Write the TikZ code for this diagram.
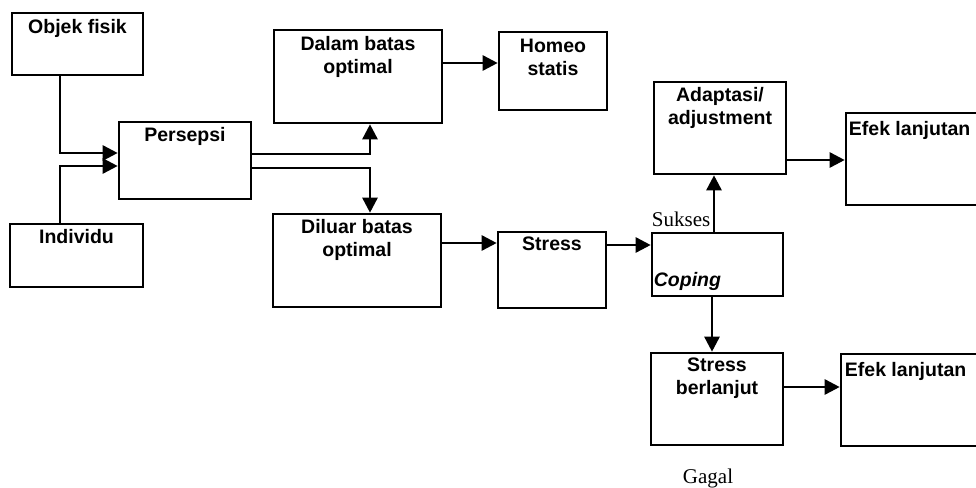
\documentclass[tikz,border=0pt]{standalone}
\usepackage{fontspec}
\setmainfont{Liberation Sans}
\newfontfamily\serifface{Liberation Serif}
\usetikzlibrary{arrows.meta}
\begin{document}
\begin{tikzpicture}[x=1pt,y=-1pt,
  box/.style={draw, line width=2.6pt, rectangle, inner sep=0pt},
  lbl/.style={inner sep=0pt, font=\fontsize{19.5pt}{23pt}\selectfont\bfseries, align=center, anchor=north},
  lbll/.style={inner sep=0pt, font=\fontsize{19.5pt}{23pt}\selectfont\bfseries, anchor=north west},
  ser/.style={inner sep=0pt, font=\fontsize{21pt}{24pt}\selectfont\serifface, anchor=base west},
  arr/.style={line width=2.6pt, -{Triangle[length=15pt,width=15pt]}}]
\useasboundingbox (0,0) rectangle (976,487);
\clip (0,0) rectangle (976,487);
% boxes
\node[box, minimum width=131pt, minimum height=62pt] (objek) at (77.5,44) {};
\node[box, minimum width=133pt, minimum height=63pt] (indiv) at (76.5,255.5) {};
\node[box, minimum width=132pt, minimum height=77pt] (pers) at (185,160.5) {};
\node[box, minimum width=168pt, minimum height=93pt] (dalam) at (358,76.5) {};
\node[box, minimum width=108pt, minimum height=78pt] (homeo) at (553,71) {};
\node[box, minimum width=168pt, minimum height=93pt] (diluar) at (357,260.5) {};
\node[box, minimum width=108pt, minimum height=76pt] (stress) at (552,270) {};
\node[box, minimum width=131pt, minimum height=63pt] (coping) at (717.5,264.5) {};
\node[box, minimum width=132pt, minimum height=92pt] (adapt) at (720,128) {};
\node[box, minimum width=144pt, minimum height=92pt] (efek1) at (918,159) {};
\node[box, minimum width=132pt, minimum height=92pt] (berl) at (717,399) {};
\node[box, minimum width=144pt, minimum height=92pt] (efek2) at (913,400) {};
% texts
\node[lbl] (tobjek) at ([yshift=-7pt]objek.north) {Objek fisik};
\node[lbl] (tindiv) at ([yshift=-6pt]indiv.north) {Individu};
\node[lbl] (tpers) at ([yshift=-6pt]pers.north) {Persepsi};
\node[lbl] (tdalam) at ([yshift=-7pt]dalam.north) {Dalam batas\\optimal};
\node[lbl] (thomeo) at ([yshift=-8pt]homeo.north) {Homeo\\statis};
\node[lbl] (tdiluar) at ([yshift=-6pt]diluar.north) {Diluar batas\\optimal};
\node[lbl] (tstress) at ([yshift=-6pt]stress.north) {Stress};
\node[lbl] (tadapt) at ([yshift=-6pt]adapt.north) {Adaptasi/\\adjustment};
\node[lbl] (tberl) at ([yshift=-6pt]berl.north) {Stress\\berlanjut};
\node[lbll] (tefek1) at ([xshift=4pt,yshift=-9pt]efek1.north west) {Efek lanjutan};
\node[lbll] (tefek2) at ([xshift=5pt,yshift=-9pt]efek2.north west) {Efek lanjutan};
\node[inner sep=0pt, anchor=base west, font=\fontsize{19.5pt}{23pt}\selectfont\bfseries\itshape] (tcoping) at ([xshift=3pt,yshift=11pt]coping.south west) {Coping};
\node[ser] (sukses) at ([xshift=1pt,yshift=5pt]coping.north west) {Sukses};
\node[ser, anchor=base] (gagal) at ([xshift=-9pt,yshift=-37pt]berl.south) {Gagal};
% connectors
\draw[arr] ([xshift=-17.5pt]objek.south) |- ([yshift=7.5pt]pers.west);
\draw[arr] ([xshift=-16.5pt]indiv.north) |- ([yshift=-5.5pt]pers.west);
\draw[arr] ([yshift=6.5pt]pers.east) -| ([xshift=12pt]dalam.south);
\draw[arr] ([yshift=-7.5pt]pers.east) -| ([xshift=13pt]diluar.north);
\draw[arr] ([yshift=13.5pt]dalam.east) -- ([yshift=13.5pt]dalam.east -| homeo.west);
\draw[arr] ([yshift=17.5pt]diluar.east) -- ([yshift=17.5pt]diluar.east -| stress.west);
\draw[arr] ([yshift=25pt]stress.east) -- ([yshift=25pt]stress.east -| coping.west);
\draw[arr] ([xshift=-3.5pt]coping.north) -- ([xshift=-3.5pt]coping.north |- adapt.south);
\draw[arr] ([xshift=-5.5pt]coping.south) -- ([xshift=-5.5pt]coping.south |- berl.north);
\draw[arr] ([yshift=-32pt]adapt.east) -- ([yshift=-32pt]adapt.east -| efek1.west);
\draw[arr] ([yshift=12pt]berl.east) -- ([yshift=12pt]berl.east -| efek2.west);
\end{tikzpicture}
\end{document}
